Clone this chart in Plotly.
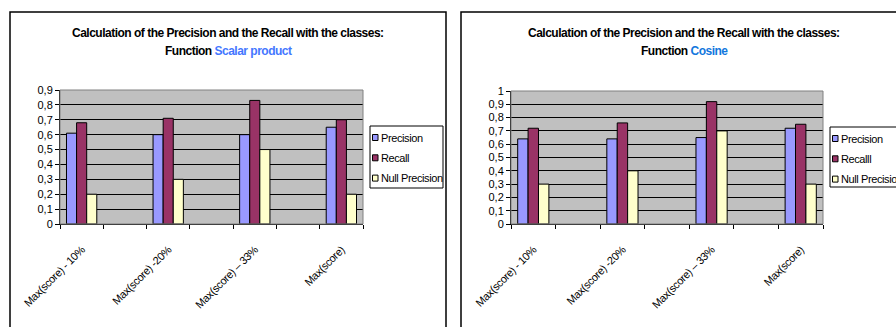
import plotly.graph_objects as go

# ---- data -------------------------------------------------------------
categories = ["Max(score) - 10%", "Max(score) -20%", "Max(score) \u2013 33%", "Max(score)"]
series_names = ["Precision", "Recall", "Null Precision"]
series_names_cos = ["Precision", "Recalll", "Null Precision"]

scalar_precision = [0.61, 0.60, 0.60, 0.65]
scalar_recall = [0.68, 0.71, 0.83, 0.70]
scalar_null = [0.20, 0.30, 0.50, 0.20]

cosine_precision = [0.64, 0.64, 0.65, 0.72]
cosine_recall = [0.72, 0.76, 0.92, 0.75]
cosine_null = [0.30, 0.40, 0.70, 0.30]

colors = ["#9999FF", "#993366", "#FFFFCC"]

W, H = 896, 327
FONT = "Liberation Sans, Arial, sans-serif"


def px_x(v):
    return v / W


def px_y(v):
    return 1 - v / H


def tight(text, ls=-0.5):
    return "<span style='letter-spacing:{}px'>{}</span>".format(ls, text)


# categories interleaved with empty spacer slots
slots = []
slot_text = []
for i, c in enumerate(categories):
    slots.append(c)
    slot_text.append(tight(c, -0.4))
    if i < len(categories) - 1:
        slots.append(" " * (i + 1))
        slot_text.append("")


def spread(vals):
    out = []
    for i, v in enumerate(vals):
        out.append(v)
        if i < len(vals) - 1:
            out.append(None)
    return out


fig = go.Figure()

panels = [
    dict(vals=[scalar_precision, scalar_recall, scalar_null], names=series_names,
         xa="x", ya="y"),
    dict(vals=[cosine_precision, cosine_recall, cosine_null], names=series_names_cos,
         xa="x2", ya="y2"),
]

for p in panels:
    for vals, name, col in zip(p["vals"], p["names"], colors):
        fig.add_trace(go.Bar(
            x=slots, y=spread(vals), name=name, xaxis=p["xa"], yaxis=p["ya"],
            marker=dict(color=col, line=dict(color="black", width=1)),
            showlegend=False, hoverinfo="skip",
        ))

xaxis_common = dict(
    type="category", categoryorder="array", categoryarray=slots,
    tickmode="array", tickvals=slots, ticktext=slot_text,
    tickson="boundaries", ticks="outside", ticklen=4, tickcolor="black",
    showline=True, linecolor="black", linewidth=1, tickangle=-45,
    ticklabelstandoff=14,
    tickfont=dict(family=FONT, size=11, color="black"),
    showgrid=False, zeroline=False, fixedrange=True, automargin=False,
)
yaxis_common = dict(
    ticks="outside", ticklen=4, tickcolor="black", showline=True,
    linecolor="black", linewidth=1, showgrid=True, gridcolor="black",
    gridwidth=1, zeroline=False, dtick=0.1, tick0=0,
    tickfont=dict(family=FONT, size=11, color="black"), fixedrange=True,
    automargin=False,
)

# plot areas (pixel positions)
L = dict(x0=60, x1=363, y0=90, y1=224)
R = dict(x0=511, x1=823, y0=91, y1=224)

fig.update_layout(
    width=W, height=H, margin=dict(l=0, r=0, t=0, b=0, autoexpand=False),
    paper_bgcolor="white", plot_bgcolor="#C0C0C0",
    separators=", ", barmode="group", bargap=0.3, bargroupgap=0,
    showlegend=False,
    xaxis=dict(xaxis_common, domain=[px_x(L["x0"]), px_x(L["x1"])], anchor="y"),
    yaxis=dict(yaxis_common, domain=[px_y(L["y1"]), px_y(L["y0"])], range=[0, 0.9], anchor="x"),
    xaxis2=dict(xaxis_common, domain=[px_x(R["x0"]), px_x(R["x1"])], anchor="y2"),
    yaxis2=dict(yaxis_common, domain=[px_y(R["y1"]), px_y(R["y0"])], range=[0, 1], anchor="x2"),
)

shapes = [
    # chart frames
    dict(type="rect", xref="paper", yref="paper", x0=px_x(10), x1=px_x(446),
         y0=px_y(345), y1=px_y(12), line=dict(color="black", width=1.5), layer="below"),
    dict(type="rect", xref="paper", yref="paper", x0=px_x(461), x1=px_x(905),
         y0=px_y(345), y1=px_y(12), line=dict(color="black", width=1.5), layer="below"),
    # plot-area outlines
    dict(type="rect", xref="x domain", yref="y domain", x0=0, x1=1, y0=0, y1=1,
         line=dict(color="#808080", width=1)),
    dict(type="rect", xref="x2 domain", yref="y2 domain", x0=0, x1=1, y0=0, y1=1,
         line=dict(color="#808080", width=1)),
]

annotations = []

# Titles
title_line1 = "Calculation of the Precision and the Recall with the classes:"
for cx, fname, fcol in [(228, "Scalar product", "#4477FF"), (684, "Cosine", "#1177DD")]:
    annotations.append(dict(x=px_x(cx), y=px_y(33),
                            text="<b>" + tight(title_line1) + "</b>"))
    annotations.append(dict(
        x=px_x(cx), y=px_y(51),
        text="<b>" + tight("Function ")
             + "<span style='color:{};letter-spacing:-0.5px'>{}</span></b>".format(fcol, fname)))
for a in annotations:
    a.update(xref="paper", yref="paper", showarrow=False, xanchor="center",
             yanchor="middle", font=dict(family=FONT, size=12, color="black"))


# Legend boxes (square swatch + label per series)
def add_legend(x0, x1, y0, y1, names):
    shapes.append(dict(type="rect", xref="paper", yref="paper",
                       x0=px_x(x0), x1=px_x(x1), y0=px_y(y1), y1=px_y(y0),
                       line=dict(color="black", width=1), fillcolor="white"))
    for k, (name, col) in enumerate(zip(names, colors)):
        cy = y0 + 11.5 + k * 20.3
        shapes.append(dict(type="rect", xref="paper", yref="paper",
                           x0=px_x(x0 + 2.5), x1=px_x(x0 + 8),
                           y0=px_y(cy + 3), y1=px_y(cy - 3),
                           line=dict(color="black", width=1), fillcolor=col))
        annotations.append(dict(
            xref="paper", yref="paper", x=px_x(x0 + 8.5), y=px_y(cy),
            text=tight(name, -0.4), showarrow=False, xanchor="left", yanchor="middle",
            font=dict(family=FONT, size=11, color="black")))


add_legend(370, 443, 126, 188, series_names)
add_legend(830, 910, 127, 187, series_names_cos)

fig.update_layout(shapes=shapes, annotations=annotations)

fig.write_html("out.html", config={"displayModeBar": False})
